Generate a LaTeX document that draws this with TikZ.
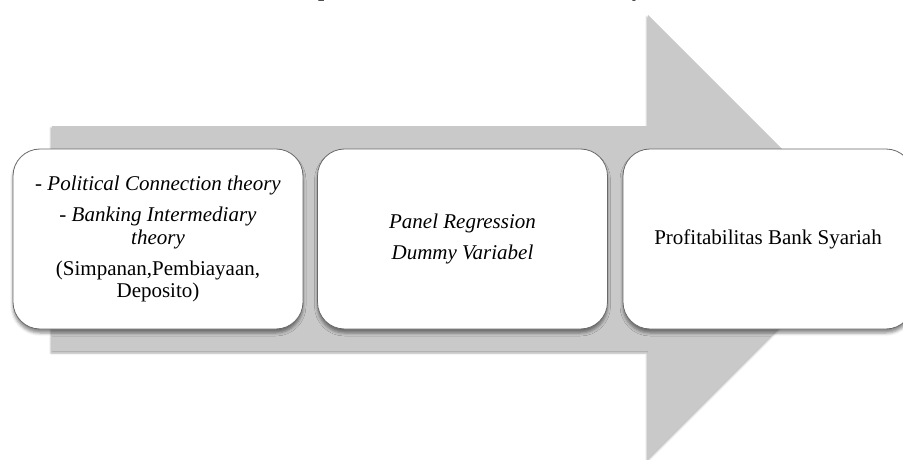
\documentclass[tikz,border=0pt]{standalone}
\usepackage{fontspec}
\setmainfont{LiberationSerif}[Extension=.ttf,UprightFont=*-Regular,ItalicFont=*-Italic,
  BoldFont=*-Bold,BoldItalicFont=*-BoldItalic]
\usepackage{tikz}
\usetikzlibrary{shadows.blur}
\definecolor{ArrowGray}{RGB}{201,201,201}
\definecolor{EdgeGray}{RGB}{105,105,105}
\tikzset{
  stepbox/.style={draw=EdgeGray,line width=.8pt,fill=white,rounded corners=27pt,
    minimum width=290pt,minimum height=180pt,align=center,inner sep=4pt,
    font=\fontsize{21}{22.5}\selectfont,
    blur shadow={shadow xshift=0pt,shadow yshift=-4pt,shadow blur radius=3pt,shadow opacity=45}}
}
\begin{document}
\begin{tikzpicture}[x=1pt,y=1pt]
      \useasboundingbox (0,0) rectangle (903,459);
      \fill[ArrowGray,blur shadow={shadow xshift=-1pt,shadow yshift=-2pt,shadow blur radius=2pt,shadow opacity=35}]
        (52,333)--(648,333)--(648,444)--(870,222)--(648,0)--(648,108)--(52,108)--cycle;
      \begin{scope}
        \clip (0,0) rectangle (903,459);
        \node[anchor=base,font=\fontsize{22}{24}\selectfont\bfseries] (title) at (451.5,462.5)
          {Alur Konsep Penelitian Profitabilitas Bank Syariah};
      \end{scope}
      \node[stepbox] (theory) at (158,220)
        {- \textit{Political Connection theory}\\[8.5pt]
         - \textit{Banking Intermediary}\\ \textit{theory}\\[8.5pt]
         (Simpanan,Pembiayaan,\\ Deposito)};
      \node[stepbox] (method) at (462.5,220)
        {\textit{Panel Regression}\\[8.5pt] \textit{Dummy Variabel}};
      \node[stepbox] (result) at (768,220) {Profitabilitas Bank Syariah};
    \end{tikzpicture}
\end{document}
